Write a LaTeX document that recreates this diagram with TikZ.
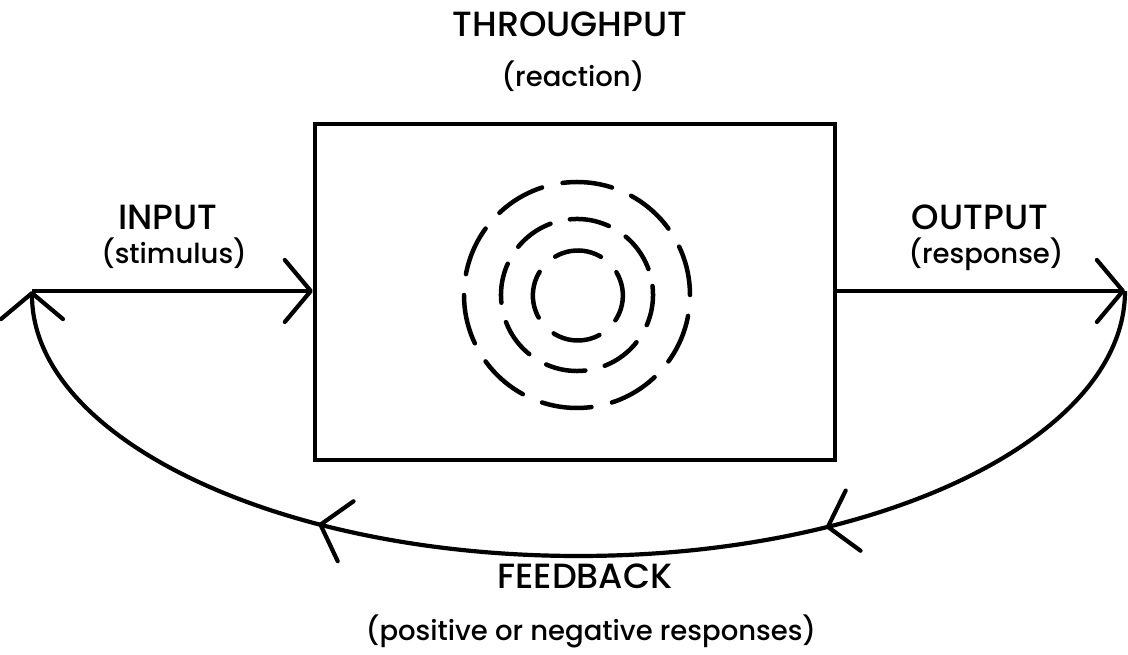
\documentclass[tikz,border=0pt]{standalone}
\usepackage{fontspec}
\setmainfont{Poppins}[UprightFont={* Medium}]
\usetikzlibrary{arrows.meta,decorations.markings}
\begin{document}
\begin{tikzpicture}[x=1pt,y=1pt,
  line width=4.2pt,
  barb/.tip={Straight Barb[length=26pt,width=62pt,round]},
  head/.style={font=\fontsize{35}{40}\selectfont, anchor=base, inner sep=0pt},
  sub/.style={font=\fontsize{27.5}{34}\selectfont, anchor=base, inner sep=0pt},
  ring/.style={line width=4.5pt, line cap=round},
]
\useasboundingbox (0,0) rectangle (1128,655);
% box
\node[draw, minimum width=520pt, minimum height=336pt, inner sep=0pt] (box) at (575,363) {};
% rings
\draw[ring, dash pattern=on 50pt off 21pt] (577,360) circle[radius=113];
\draw[ring, dash pattern=on 40pt off 20pt, rotate around={20:(577,360)}] (577,360) circle[radius=76];
\draw[ring, dash pattern=on 48pt off 22pt, rotate around={-30:(577,360)}] (578,360) circle[radius=45];
% end points
\coordinate (inbeg) at (32,364);
\coordinate (outend) at (1125,364);
% input / output
\draw[-{barb}] (inbeg) -- (box.west |- inbeg);
\draw[-{barb}] (box.east |- outend) -- (outend);
% feedback
\draw[-{barb}, postaction={decorate, decoration={markings,
    mark=at position 0.31 with {\arrow{barb}},
    mark=at position 0.70 with {\arrow{barb}}}}]
  (outend) arc[start angle=0, end angle=-180, x radius=546.5, y radius=265];
% labels
\node[head] (thr) at (570,618) {THROUGHPUT};
\node[sub] (rea) at (573,568) {(reaction)};
\node[head] (inp) at (168,425) {INPUT};
\node[sub] (sti) at (174,391) {(stimulus)};
\node[head] (outp) at (980,425) {OUTPUT};
\node[sub] (res) at (986,391) {(response)};
\node[head] (fb) at (585,66) {FEEDBACK};
\node[sub] (pos) at (591,14) {(positive or negative responses)};
\end{tikzpicture}
\end{document}
